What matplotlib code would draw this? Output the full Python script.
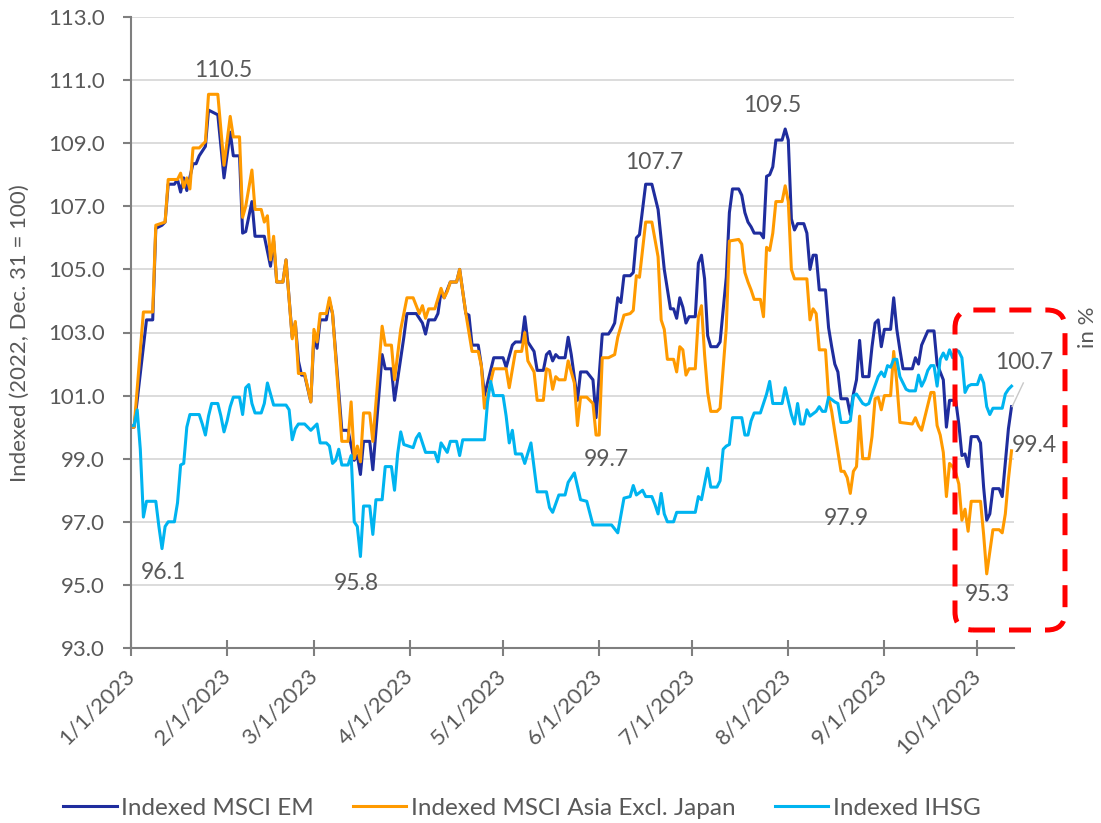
import numpy as np
import matplotlib
matplotlib.use("Agg")
import matplotlib.pyplot as plt
import matplotlib.dates as mdates
from matplotlib.patches import FancyBboxPatch
from matplotlib.transforms import IdentityTransform
from matplotlib.lines import Line2D
import datetime as dt

plt.rcParams['font.family'] = ['Lato', 'DejaVu Sans']

# ---------------- data (days since 2023-01-01, index value) ----------------
em_days = [0, 1, 5, 7, 8, 10, 11, 12, 14, 15, 16, 17, 18, 20, 21, 22, 24, 25, 28, 30,
           32, 33, 35, 36, 37, 39, 40, 43, 45, 46, 47, 49, 50, 52, 53, 54, 55, 56, 58, 59,
           60, 61, 63, 64, 65, 68, 70, 72, 73, 74, 75, 77, 78, 81, 82, 84, 85, 88, 89, 92,
           94, 95, 96, 98, 99, 100, 101, 103, 105, 106, 108, 109, 110, 112, 113, 114, 117, 120, 121, 123,
           124, 126, 127, 128, 130, 131, 133, 134, 135, 136, 137, 138, 140, 141, 142, 144, 145, 147, 149, 150,
           152, 154, 155, 156, 157, 158, 159, 161, 162, 163, 164, 166, 168, 170, 172, 174, 175, 176, 177, 178,
           179, 180, 182, 183, 184, 185, 186, 187, 189, 190, 192, 193, 194, 196, 197, 198, 199, 200, 201, 203,
           204, 205, 206, 207, 208, 210, 211, 212, 213, 214, 215, 217, 218, 219, 220, 221, 222, 224, 225, 226,
           227, 228, 229, 231, 232, 233, 234, 235, 236, 238, 239, 240, 241, 242, 243, 245, 246, 247, 248, 249,
           252, 253, 254, 255, 257, 259, 260, 262, 263, 264, 266, 267, 268, 269, 270, 271, 273, 274, 275, 276,
           277, 278, 280, 281, 283, 284]
em_vals = [100.0, 100.0, 103.4, 103.4, 106.3, 106.4, 106.5, 107.7, 107.7, 107.85, 107.45, 107.9, 107.5, 108.35, 108.35, 108.6, 108.9, 110.05, 109.9, 107.9,
           109.35, 108.6, 108.6, 106.15, 106.2, 107.15, 106.05, 106.05, 105.1, 105.9, 104.6, 104.6, 105.3, 102.85, 103.3, 102.1, 101.65, 101.65, 100.8, 102.9,
           102.5, 103.4, 103.4, 104.0, 103.6, 99.9, 99.9, 98.95, 99.1, 98.5, 99.55, 99.55, 98.65, 102.3, 101.85, 101.85, 100.85, 102.85, 103.6, 103.6,
           103.3, 102.95, 103.4, 103.4, 103.6, 104.3, 104.1, 104.6, 104.6, 105.0, 103.6, 103.55, 102.6, 102.6, 101.95, 101.0, 102.2, 102.2, 101.9, 102.6,
           102.7, 102.7, 103.5, 102.7, 102.4, 101.8, 101.8, 102.3, 102.4, 102.1, 102.3, 102.2, 102.2, 102.85, 102.3, 100.85, 101.75, 101.75, 101.5, 100.3,
           102.95, 102.95, 103.1, 103.3, 104.1, 103.95, 104.8, 104.8, 104.9, 106.0, 106.1, 107.7, 107.7, 106.9, 105.0, 103.75, 103.75, 103.45, 104.1, 103.8,
           103.3, 103.5, 103.5, 105.2, 105.45, 104.7, 102.9, 102.55, 102.55, 102.7, 104.75, 106.8, 107.55, 107.55, 107.35, 106.8, 106.5, 106.35, 106.15, 106.15,
           106.0, 107.95, 108.0, 108.25, 109.1, 109.1, 109.45, 109.1, 106.6, 106.25, 106.45, 106.45, 106.15, 105.0, 105.45, 105.45, 104.35, 104.35, 103.15, 102.55,
           102.0, 101.75, 100.9, 100.9, 100.4, 101.05, 101.5, 102.75, 101.6, 101.6, 102.55, 103.3, 103.4, 102.55, 103.1, 103.1, 104.1, 103.1, 102.45, 101.85,
           101.85, 102.2, 102.0, 102.6, 103.05, 103.05, 102.0, 101.5, 100.0, 100.85, 100.85, 100.1, 99.1, 99.15, 98.75, 99.7, 99.7, 99.5, 98.1, 97.05,
           97.25, 98.05, 98.05, 97.8, 99.95, 100.65]

asia_days = [0, 1, 4, 7, 8, 11, 12, 15, 16, 17, 18, 19, 20, 22, 23, 24, 25, 28, 30, 32,
             33, 35, 36, 37, 39, 40, 42, 43, 44, 45, 46, 47, 49, 50, 52, 53, 54, 56, 58, 59,
             60, 61, 63, 64, 65, 68, 70, 71, 72, 73, 74, 75, 77, 78, 81, 82, 84, 85, 87, 89,
             91, 93, 94, 95, 96, 98, 100, 101, 102, 103, 105, 106, 108, 110, 112, 113, 114, 117, 121, 122,
             124, 126, 127, 128, 130, 131, 133, 134, 135, 136, 137, 138, 140, 141, 143, 144, 145, 147, 149, 150,
             151, 152, 154, 156, 157, 159, 161, 162, 163, 164, 166, 168, 170, 171, 172, 173, 175, 176, 177, 178,
             179, 180, 182, 183, 184, 185, 186, 187, 189, 190, 192, 193, 196, 197, 198, 199, 200, 201, 203, 204,
             205, 206, 207, 208, 210, 211, 212, 213, 214, 218, 219, 220, 221, 222, 224, 225, 226, 227, 229, 230,
             231, 232, 233, 234, 235, 236, 238, 239, 240, 241, 242, 243, 245, 246, 247, 248, 252, 253, 254, 255,
             257, 258, 259, 260, 261, 262, 263, 264, 265, 266, 267, 268, 269, 270, 271, 274, 275, 276, 277, 278,
             280, 281, 282, 283, 284]
asia_vals = [100.0, 100.0, 103.65, 103.65, 106.4, 106.5, 107.85, 107.85, 108.05, 107.6, 107.9, 107.55, 108.85, 108.85, 108.95, 109.05, 110.55, 110.55, 108.3, 109.85,
             109.2, 109.2, 106.65, 107.0, 108.15, 106.9, 106.9, 106.5, 106.7, 105.3, 106.05, 104.6, 104.6, 105.3, 102.8, 103.35, 101.7, 101.7, 100.8, 103.1,
             102.7, 103.6, 103.6, 104.1, 103.6, 99.55, 99.55, 100.8, 99.0, 99.4, 98.9, 100.45, 100.45, 99.55, 103.2, 102.6, 102.6, 101.5, 103.1, 104.1,
             104.1, 103.6, 103.85, 103.45, 103.75, 103.75, 104.4, 104.1, 104.3, 104.6, 104.6, 105.0, 103.6, 102.4, 102.4, 101.95, 100.6, 101.85, 101.85, 101.25,
             102.4, 102.4, 103.0, 102.1, 101.75, 100.85, 100.85, 101.85, 101.8, 101.2, 101.6, 101.5, 101.5, 102.1, 101.4, 100.05, 100.95, 100.95, 100.75, 99.75,
             99.75, 102.2, 102.2, 102.3, 102.85, 103.55, 103.6, 103.7, 104.8, 104.75, 106.5, 106.5, 105.4, 103.4, 103.1, 102.15, 102.15, 101.75, 102.55, 102.45,
             101.65, 101.85, 101.85, 103.5, 103.85, 102.3, 101.1, 100.5, 100.5, 100.6, 103.15, 105.9, 105.95, 105.8, 104.9, 104.6, 104.35, 104.05, 104.05, 103.5,
             105.7, 105.6, 106.15, 107.15, 107.15, 107.65, 107.15, 105.0, 104.7, 104.7, 103.4, 103.75, 103.6, 102.45, 102.45, 100.95, 100.5, 99.85, 98.6, 98.6,
             98.4, 97.9, 98.6, 98.75, 100.35, 99.0, 99.0, 99.7, 100.9, 100.95, 100.55, 101.0, 101.0, 102.4, 101.4, 100.15, 100.1, 100.3, 100.05, 99.9,
             100.7, 101.1, 101.1, 100.05, 99.75, 99.2, 97.8, 98.85, 98.75, 98.55, 98.2, 97.05, 97.4, 96.7, 97.65, 97.65, 96.6, 95.35, 96.05, 96.75,
             96.75, 96.65, 97.25, 98.35, 99.25]

ihsg_days = [0, 1, 2, 3, 4, 5, 8, 9, 10, 11, 12, 14, 15, 16, 17, 18, 19, 22, 23, 24,
             25, 26, 28, 29, 30, 31, 32, 33, 35, 36, 37, 38, 39, 40, 42, 43, 44, 46, 50, 51,
             52, 53, 54, 56, 58, 60, 61, 63, 64, 65, 66, 67, 68, 70, 71, 72, 73, 74, 75, 77,
             78, 79, 81, 82, 84, 85, 86, 87, 88, 91, 92, 93, 95, 98, 99, 100, 102, 103, 105, 106,
             107, 114, 115, 116, 117, 120, 121, 122, 123, 124, 126, 127, 129, 131, 134, 135, 136, 138, 140, 141,
             143, 145, 147, 149, 155, 157, 159, 161, 162, 163, 165, 166, 168, 169, 170, 171, 172, 173, 175, 176,
             182, 183, 184, 186, 187, 189, 190, 191, 192, 193, 194, 197, 198, 199, 200, 201, 203, 204, 205, 206,
             207, 210, 211, 213, 214, 215, 216, 217, 218, 219, 221, 222, 223, 224, 225, 227, 228, 229, 231, 232,
             233, 234, 236, 237, 238, 239, 241, 242, 243, 244, 245, 246, 247, 248, 250, 251, 253, 254, 255, 256,
             257, 258, 259, 260, 261, 262, 263, 264, 265, 266, 267, 268, 269, 270, 271, 273, 274, 275, 276, 277,
             278, 281, 282, 283, 284]
ihsg_vals = [100.05, 100.05, 100.55, 99.3, 97.15, 97.65, 97.65, 96.85, 96.15, 96.85, 97.0, 97.0, 97.6, 98.8, 98.85, 100.0, 100.4, 100.4, 100.1, 99.75,
             100.35, 100.75, 100.75, 100.35, 99.85, 100.2, 100.65, 100.95, 100.95, 100.4, 101.25, 101.35, 100.75, 100.45, 100.45, 100.75, 101.4, 100.7, 100.7, 100.55,
             99.6, 99.95, 100.1, 100.1, 99.9, 100.1, 99.5, 99.5, 99.4, 98.85, 98.95, 99.3, 98.8, 98.8, 99.1, 97.0, 96.85, 95.9, 97.5, 97.5,
             96.6, 97.7, 97.7, 98.75, 98.75, 98.0, 99.15, 99.85, 99.45, 99.35, 99.65, 99.8, 99.2, 99.2, 98.9, 99.5, 99.2, 99.55, 99.55, 99.1,
             99.6, 99.6, 100.8, 101.45, 101.0, 101.0, 100.35, 99.5, 99.9, 99.15, 99.15, 98.85, 99.5, 97.95, 97.95, 97.45, 97.3, 97.85, 97.85, 98.25,
             98.55, 97.7, 97.65, 96.9, 96.9, 96.65, 97.75, 97.8, 98.15, 97.85, 98.0, 97.8, 97.8, 97.55, 97.25, 97.9, 97.25, 97.0, 97.0, 97.3,
             97.3, 97.8, 97.7, 98.7, 98.1, 98.1, 98.3, 99.3, 99.4, 99.45, 100.3, 100.3, 99.75, 99.75, 100.2, 100.45, 100.45, 100.75, 101.05, 101.45,
             100.75, 100.75, 101.25, 100.4, 100.1, 100.75, 100.1, 100.1, 100.55, 100.35, 100.5, 100.65, 100.5, 100.5, 100.95, 100.8, 100.75, 100.15, 100.15, 100.2,
             101.0, 101.05, 100.75, 100.7, 100.75, 101.05, 101.6, 101.75, 101.6, 101.95, 101.9, 102.15, 102.15, 101.6, 101.2, 101.15, 101.15, 101.65, 101.3, 101.5,
             101.8, 101.95, 101.95, 101.3, 102.15, 102.35, 102.15, 102.45, 102.2, 102.45, 102.4, 102.2, 101.1, 101.3, 101.35, 101.35, 101.65, 101.4, 100.65, 100.4,
             100.6, 100.6, 101.05, 101.2, 101.3]

series_names = ["Indexed MSCI EM", "Indexed MSCI Asia Excl. Japan", "Indexed IHSG"]
series_colors = ["#1F2D9E", "#FF9A00", "#00B4F0"]

xtick_months = [1, 2, 3, 4, 5, 6, 7, 8, 9, 10]
xtick_labels = ["1/1/2023", "2/1/2023", "3/1/2023", "4/1/2023", "5/1/2023",
                "6/1/2023", "7/1/2023", "8/1/2023", "9/1/2023", "10/1/2023"]
yticks = [93.0, 95.0, 97.0, 99.0, 101.0, 103.0, 105.0, 107.0, 109.0, 111.0, 113.0]

# annotation labels: (text, day position, value position)
labels_txt = ["110.5", "96.1", "95.8", "107.7", "99.7", "109.5", "97.9", "95.3", "99.4", "100.7"]
labels_day = [29.7, 10.3, 72.6, 168.7, 153.2, 206.8, 230.6, 276.1, 291.3, 288.2]
labels_val = [111.32, 95.38, 95.06, 108.4, 98.96, 110.19, 97.09, 94.71, 99.43, 102.04]

# ---------------- figure ----------------
W, H = 1101, 823
fig = plt.figure(figsize=(W / 100, H / 100), dpi=100)
ax = fig.add_axes([131 / W, (H - 648) / H, (1014 - 131) / W, (648 - 17) / H])

x0 = mdates.date2num(dt.datetime(2023, 1, 1))
gray_txt = "#595959"
axis_col = "#7f7f7f"

for days, vals, col, name in zip([em_days, asia_days, ihsg_days],
                                 [em_vals, asia_vals, ihsg_vals],
                                 series_colors, series_names):
    ax.plot(x0 + np.asarray(days, float), vals, color=col, lw=2.2,
            solid_joinstyle="round", label=name)

ax.set_ylim(93, 113)
ax.set_xlim(x0, x0 + 284.8)
ax.set_yticks(yticks)
ax.set_yticklabels([f"{v:.1f}" for v in yticks])
xt = [mdates.date2num(dt.datetime(2023, m, 1)) for m in xtick_months]
ax.set_xticks(xt)
ax.set_xticklabels(xtick_labels, rotation=45, ha="right", va="center",
                   rotation_mode="anchor")

ax.yaxis.grid(True, color="#d9d9d9", lw=1.3)
ax.set_axisbelow(True)
for s in ["top", "right"]:
    ax.spines[s].set_visible(False)
for s in ["left", "bottom"]:
    ax.spines[s].set_color(axis_col)
    ax.spines[s].set_linewidth(1.5)

ax.tick_params(axis="y", direction="out", length=6, width=1.5, color=axis_col,
               labelsize=16, labelcolor=gray_txt, pad=13)
ax.tick_params(axis="x", direction="inout", length=11.5, width=1.5, color=axis_col,
               labelsize=16, labelcolor=gray_txt, pad=12)

for t, d, v in zip(labels_txt, labels_day, labels_val):
    ax.text(x0 + d, v, t, ha="center", va="center", fontsize=16.5,
            color=gray_txt, clip_on=False)

# leader line for the 100.7 label
ax.plot([x0 + em_days[-1] + 0.2, x0 + 287.8], [em_vals[-1], 101.4],
        color="#c8c8c8", lw=1.0, clip_on=False)

fig.text(20 / W, (H - 333) / H, "Indexed (2022, Dec. 31 = 100)", rotation=90,
         ha="center", va="center", fontsize=16, color=gray_txt)
fig.text(1088 / W, (H - 327) / H, "in %", rotation=90, ha="center",
         va="center", fontsize=16, color=gray_txt)

# red dashed highlight box (pixel coordinates)
box = FancyBboxPatch((955, H - 630), 110, 320,
                     boxstyle="round,pad=0,rounding_size=18",
                     transform=IdentityTransform(), fill=False,
                     ec="#FF0000", lw=3.6, ls=(0, (4.4, 2.8)), zorder=10)
fig.add_artist(box)

handles = [Line2D([], [], color=c, lw=2.2) for c in series_colors]
fig.legend(handles, series_names, loc="center", bbox_to_anchor=(522 / W, (H - 808) / H),
           ncol=3, frameon=False, fontsize=17.5, labelcolor=gray_txt,
           handlelength=2.2, handletextpad=0.2, columnspacing=1.6)

fig.savefig("out.png", dpi=100)
